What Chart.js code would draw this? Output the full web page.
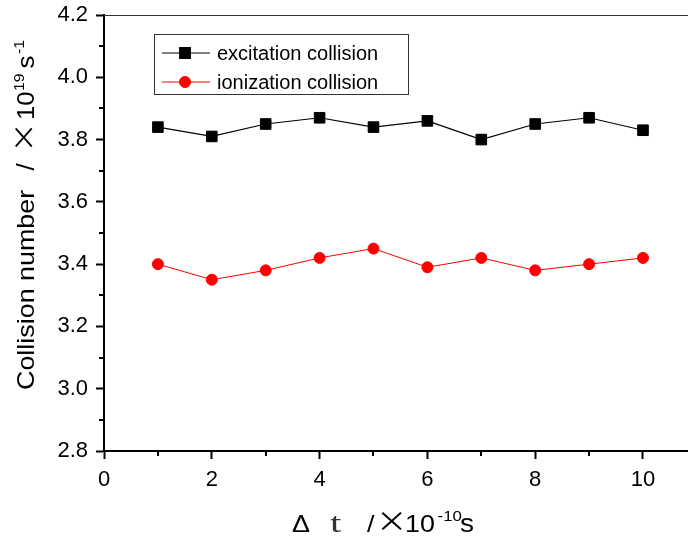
<!DOCTYPE html>
<html>
<head>
<meta charset="utf-8">
<script src="https://cdn.jsdelivr.net/npm/chart.js@4/dist/chart.umd.min.js"></script>
<style>
html,body{margin:0;padding:0;background:#fff;overflow:hidden;}
#wrap{width:688px;height:536px;position:relative;}
</style>
</head>
<body>
<div id="wrap"><canvas id="c" width="688" height="536"></canvas></div>
<script>
// ---- data ----
const dtValues = [1, 2, 3, 4, 5, 6, 7, 8, 9, 10];
const excitation = [3.84, 3.81, 3.85, 3.87, 3.84, 3.86, 3.80, 3.85, 3.87, 3.83];
const ionization = [3.40, 3.35, 3.38, 3.42, 3.45, 3.39, 3.42, 3.38, 3.40, 3.42];
const seriesNames = ['excitation collision', 'ionization collision'];
const xTickValues = [0, 2, 4, 6, 8, 10];
const xMinorValues = [1, 3, 5, 7, 9];
const yTickValues = [2.8, 3.0, 3.2, 3.4, 3.6, 3.8, 4.0, 4.2];
const yMinorValues = [2.9, 3.1, 3.3, 3.5, 3.7, 3.9, 4.1];

const FONT = '"Liberation Sans", Arial, sans-serif';
const CJK = '"Noto Sans CJK SC", sans-serif';

const minorTicks = {
  id: 'minorTicks',
  afterDraw(chart) {
    const ctx = chart.ctx, a = chart.chartArea;
    const xs = chart.scales.x, ys = chart.scales.y;
    ctx.save();
    ctx.strokeStyle = '#000';
    ctx.lineWidth = 2;
    ctx.beginPath();
    xMinorValues.forEach(v => { const px = Math.round(xs.getPixelForValue(v)); ctx.moveTo(px, a.bottom); ctx.lineTo(px, a.bottom + 5); });
    yMinorValues.forEach(v => { const py = Math.round(ys.getPixelForValue(v)); ctx.moveTo(a.left, py); ctx.lineTo(a.left - 5, py); });
    ctx.stroke();
    // top frame line
    ctx.strokeStyle = '#333';
    ctx.lineWidth = 1.2;
    ctx.beginPath();
    ctx.moveTo(a.left, a.top + 0.5); ctx.lineTo(a.right, a.top + 0.5);
    ctx.stroke();
    ctx.restore();
  }
};

function drawRuns(ctx, runs) {
  runs.forEach(r => {
    ctx.font = r.font;
    ctx.save();
    if (r.color) ctx.fillStyle = r.color;
    ctx.translate(r.at, r.dy || 0);
    if (r.sx) ctx.scale(r.sx, 1);
    ctx.fillText(r.t, 0, 0);
    ctx.restore();
  });
}

const titles = {
  id: 'titles',
  afterDraw(chart) {
    const ctx = chart.ctx;
    ctx.save();
    ctx.fillStyle = '#000';
    ctx.textBaseline = 'alphabetic';
    ctx.textAlign = 'left';
    // x title
    ctx.save();
    ctx.translate(292, 532);
    ctx.scale(1.12, 1);
    drawRuns(ctx, [
      {t: 'Δ', font: '24px ' + FONT, at: 0},
      {t: 't', font: '27px "Liberation Serif", serif', at: 34, sx: 1.35, color: '#333'},
      {t: '/', font: '24px ' + FONT, at: 67},
      {t: '×', font: '28px ' + CJK, at: 75},
      {t: '10', font: '24px ' + FONT, at: 101},
      {t: '-10', font: '15px ' + FONT, at: 130, dy: -11},
      {t: 's', font: '25px ' + FONT, at: 150}
    ]);
    ctx.restore();
    // y title
    ctx.save();
    ctx.translate(34, 390);
    ctx.rotate(-Math.PI / 2);
    ctx.scale(1.12, 1);
    drawRuns(ctx, [
      {t: 'Collision number', font: '24px ' + FONT, at: 0},
      {t: '/', font: '23px ' + FONT, at: 196},
      {t: '×', font: '27px ' + CJK, at: 212},
      {t: '10', font: '23px ' + FONT, at: 241},
      {t: '19', font: '14px ' + FONT, at: 267, dy: -10},
      {t: 's', font: '23px ' + FONT, at: 287},
      {t: '-1', font: '14px ' + FONT, at: 300, dy: -10}
    ]);
    ctx.restore();
    ctx.restore();
  }
};

const boxLegend = {
  id: 'boxLegend',
  afterDraw(chart) {
    const ctx = chart.ctx;
    ctx.save();
    ctx.strokeStyle = '#333';
    ctx.lineWidth = 1;
    ctx.strokeRect(154.5, 34.5, 254, 60);
    const rows = [53, 82];
    chart.data.datasets.forEach((ds, i) => {
      const y = rows[i];
      ctx.strokeStyle = ds.borderColor;
      ctx.lineWidth = ds.borderWidth;
      ctx.beginPath(); ctx.moveTo(162, y); ctx.lineTo(210, y); ctx.stroke();
      ctx.fillStyle = ds.pointBackgroundColor;
      ctx.strokeStyle = ds.pointBorderColor;
      Chart.helpers.drawPoint(ctx, {pointStyle: ds.pointStyle, radius: ds.pointRadius, borderWidth: 1, rotation: 0}, 185, y);
      ctx.fillStyle = '#000';
      ctx.font = '20px ' + FONT;
      ctx.textBaseline = 'middle';
      ctx.fillText(ds.label, 217, y + 1);
    });
    ctx.restore();
  }
};

new Chart(document.getElementById('c'), {
  type: 'line',
  data: {
    datasets: [
      {
        label: seriesNames[0],
        data: dtValues.map((x, i) => ({x, y: excitation[i]})),
        borderColor: '#000', borderWidth: 1.2,
        pointStyle: 'rect', pointRadius: 7.5,
        pointBackgroundColor: '#000', pointBorderColor: '#000', pointBorderWidth: 1,
        tension: 0
      },
      {
        label: seriesNames[1],
        data: dtValues.map((x, i) => ({x, y: ionization[i]})),
        borderColor: '#ff0000', borderWidth: 1,
        pointStyle: 'circle', pointRadius: 5.5,
        pointBackgroundColor: '#ff0000', pointBorderColor: '#ff0000', pointBorderWidth: 1,
        tension: 0
      }
    ]
  },
  options: {
    responsive: false,
    animation: false,
    layout: {autoPadding: false, padding: {left: 0, top: 15, right: 0, bottom: 0}},
    plugins: {legend: {display: false}, tooltip: {enabled: false}},
    scales: {
      x: {
        type: 'linear',
        min: 0, max: 10.835,
        afterBuildTicks: s => { s.ticks = xTickValues.map(v => ({value: v})); },
        afterFit: s => { s.height = 85; s.paddingLeft = 0; s.paddingRight = 0; },
        border: {display: true, color: '#000', width: 2},
        grid: {drawOnChartArea: false, drawTicks: true, tickLength: 8, tickColor: '#000', tickWidth: 2},
        ticks: {color: '#000', font: {family: FONT, size: 22}, padding: 8, maxRotation: 0, callback: v => String(v)}
      },
      y: {
        type: 'linear',
        min: 2.8, max: 4.2,
        afterBuildTicks: s => { s.ticks = yTickValues.map(v => ({value: v})); },
        afterFit: s => { s.width = 104; s.paddingTop = 0; s.paddingBottom = 0; },
        border: {display: true, color: '#000', width: 2},
        grid: {drawOnChartArea: false, drawTicks: true, tickLength: 8, tickColor: '#000', tickWidth: 2},
        ticks: {color: '#000', font: {family: FONT, size: 22}, padding: 8, callback: v => v.toFixed(1)}
      }
    }
  },
  plugins: [minorTicks, titles, boxLegend]
});
</script>
</body>
</html>
